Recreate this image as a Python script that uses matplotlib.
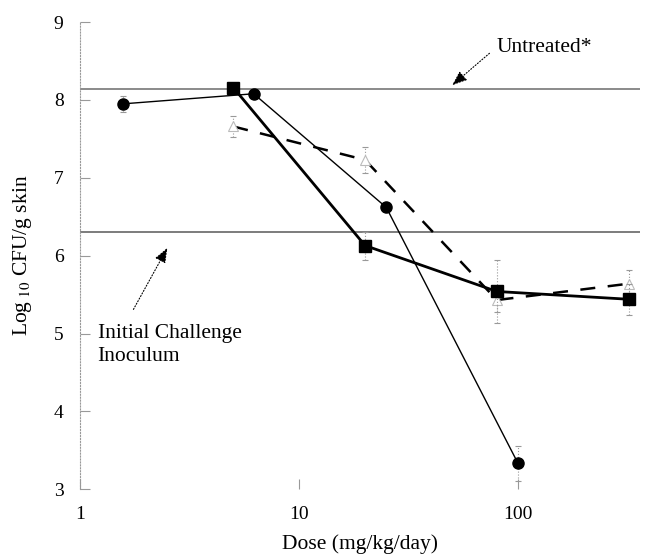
import matplotlib
matplotlib.use("Agg")
import matplotlib.pyplot as plt
from matplotlib.ticker import FixedLocator, NullLocator

plt.rcParams['font.family'] = ['Liberation Serif', 'DejaVu Serif']
plt.rcParams['mathtext.fontset'] = 'stix'

# series
circle_dose = [1.56, 6.2, 25, 100]
circle_log = [7.95, 8.08, 6.62, 3.33]
circle_err = [0.1, 0.0, 0.0, 0.22]

square_dose = [5, 20, 80, 320]
square_log = [8.16, 6.13, 5.54, 5.44]
square_err = [0.0, 0.18, 0.4, 0.2]

tri_dose = [5, 20, 80, 320]
tri_log = [7.66, 7.23, 5.43, 5.64]
tri_err = [0.13, 0.17, 0.15, 0.18]

untreated_level = 8.14
inoculum_level = 6.30

y_ticks = [3, 4, 5, 6, 7, 8, 9]
x_ticks = [1, 10, 100]
x_tick_labels = ['1', '10', '100']


def draw_series(ax, x, y, err, **kw):
    eb = ax.errorbar(x, y, yerr=err, ecolor='#999999', elinewidth=0.8,
                     capsize=2, capthick=0.8, **kw)
    for coll in eb[2]:
        coll.set_linestyle(':')
    return eb


def main():
    fig = plt.figure(figsize=(6.47, 5.54), dpi=100)
    ax = fig.add_axes([0.124, 0.117, 0.865, 0.843])

    ax.axhline(untreated_level, color='#8a8a8a', lw=1.4, zorder=1)
    ax.axhline(inoculum_level, color='#666666', lw=1.2, zorder=1)

    draw_series(ax, tri_dose, tri_log, tri_err, color='black', lw=1.8,
                linestyle=(0, (6, 5)), marker='^', ms=7, mfc='white',
                mec='#bbbbbb', mew=0.8, zorder=3)
    draw_series(ax, circle_dose, circle_log, circle_err, color='black',
                lw=1.0, marker='o', ms=8, zorder=4)
    draw_series(ax, square_dose, square_log, square_err, color='black',
                lw=2.0, marker='s', ms=8, zorder=5)

    ax.set_xscale('log')
    ax.set_xlim(1, 360)
    ax.set_ylim(3, 9)
    ax.xaxis.set_major_locator(FixedLocator(x_ticks))
    ax.xaxis.set_minor_locator(NullLocator())
    ax.set_xticklabels(x_tick_labels)
    ax.set_yticks(y_ticks)

    for s in ['top', 'right', 'bottom']:
        ax.spines[s].set_visible(False)
    ax.spines['left'].set_linestyle(':')
    ax.spines['left'].set_color('#999999')
    ax.spines['left'].set_linewidth(0.8)

    ax.tick_params(axis='both', direction='in', color='#999999', width=0.8,
                   length=7, labelsize=14)
    ax.tick_params(axis='y', pad=12)
    ax.tick_params(axis='x', pad=12)

    ax.set_xlabel('Dose (mg/kg/day)', fontsize=15.5, labelpad=8)
    ax.set_ylabel(r'Log$_{\ 10}$ CFU/g skin', fontsize=15.5, labelpad=14)

    ax.annotate('', xy=(50, 8.19), xytext=(74, 8.60),
                arrowprops=dict(arrowstyle='-|>,head_length=0.9,head_width=0.35',
                                color='black', lw=0.8, linestyle=':',
                                shrinkA=0, shrinkB=0))
    ax.text(80, 8.67, 'Untreated*', fontsize=15.5, va='center', ha='left')

    ax.annotate('', xy=(2.5, 6.10), xytext=(1.75, 5.31),
                arrowprops=dict(arrowstyle='-|>,head_length=0.9,head_width=0.35',
                                color='black', lw=0.8, linestyle=':',
                                shrinkA=0, shrinkB=0))
    ax.text(1.2, 4.85, 'Initial Challenge\nInoculum', fontsize=15.5,
            va='center', ha='left', linespacing=1.3)

    fig.savefig('out.png', dpi=100)


if __name__ == "__main__":
    main()
